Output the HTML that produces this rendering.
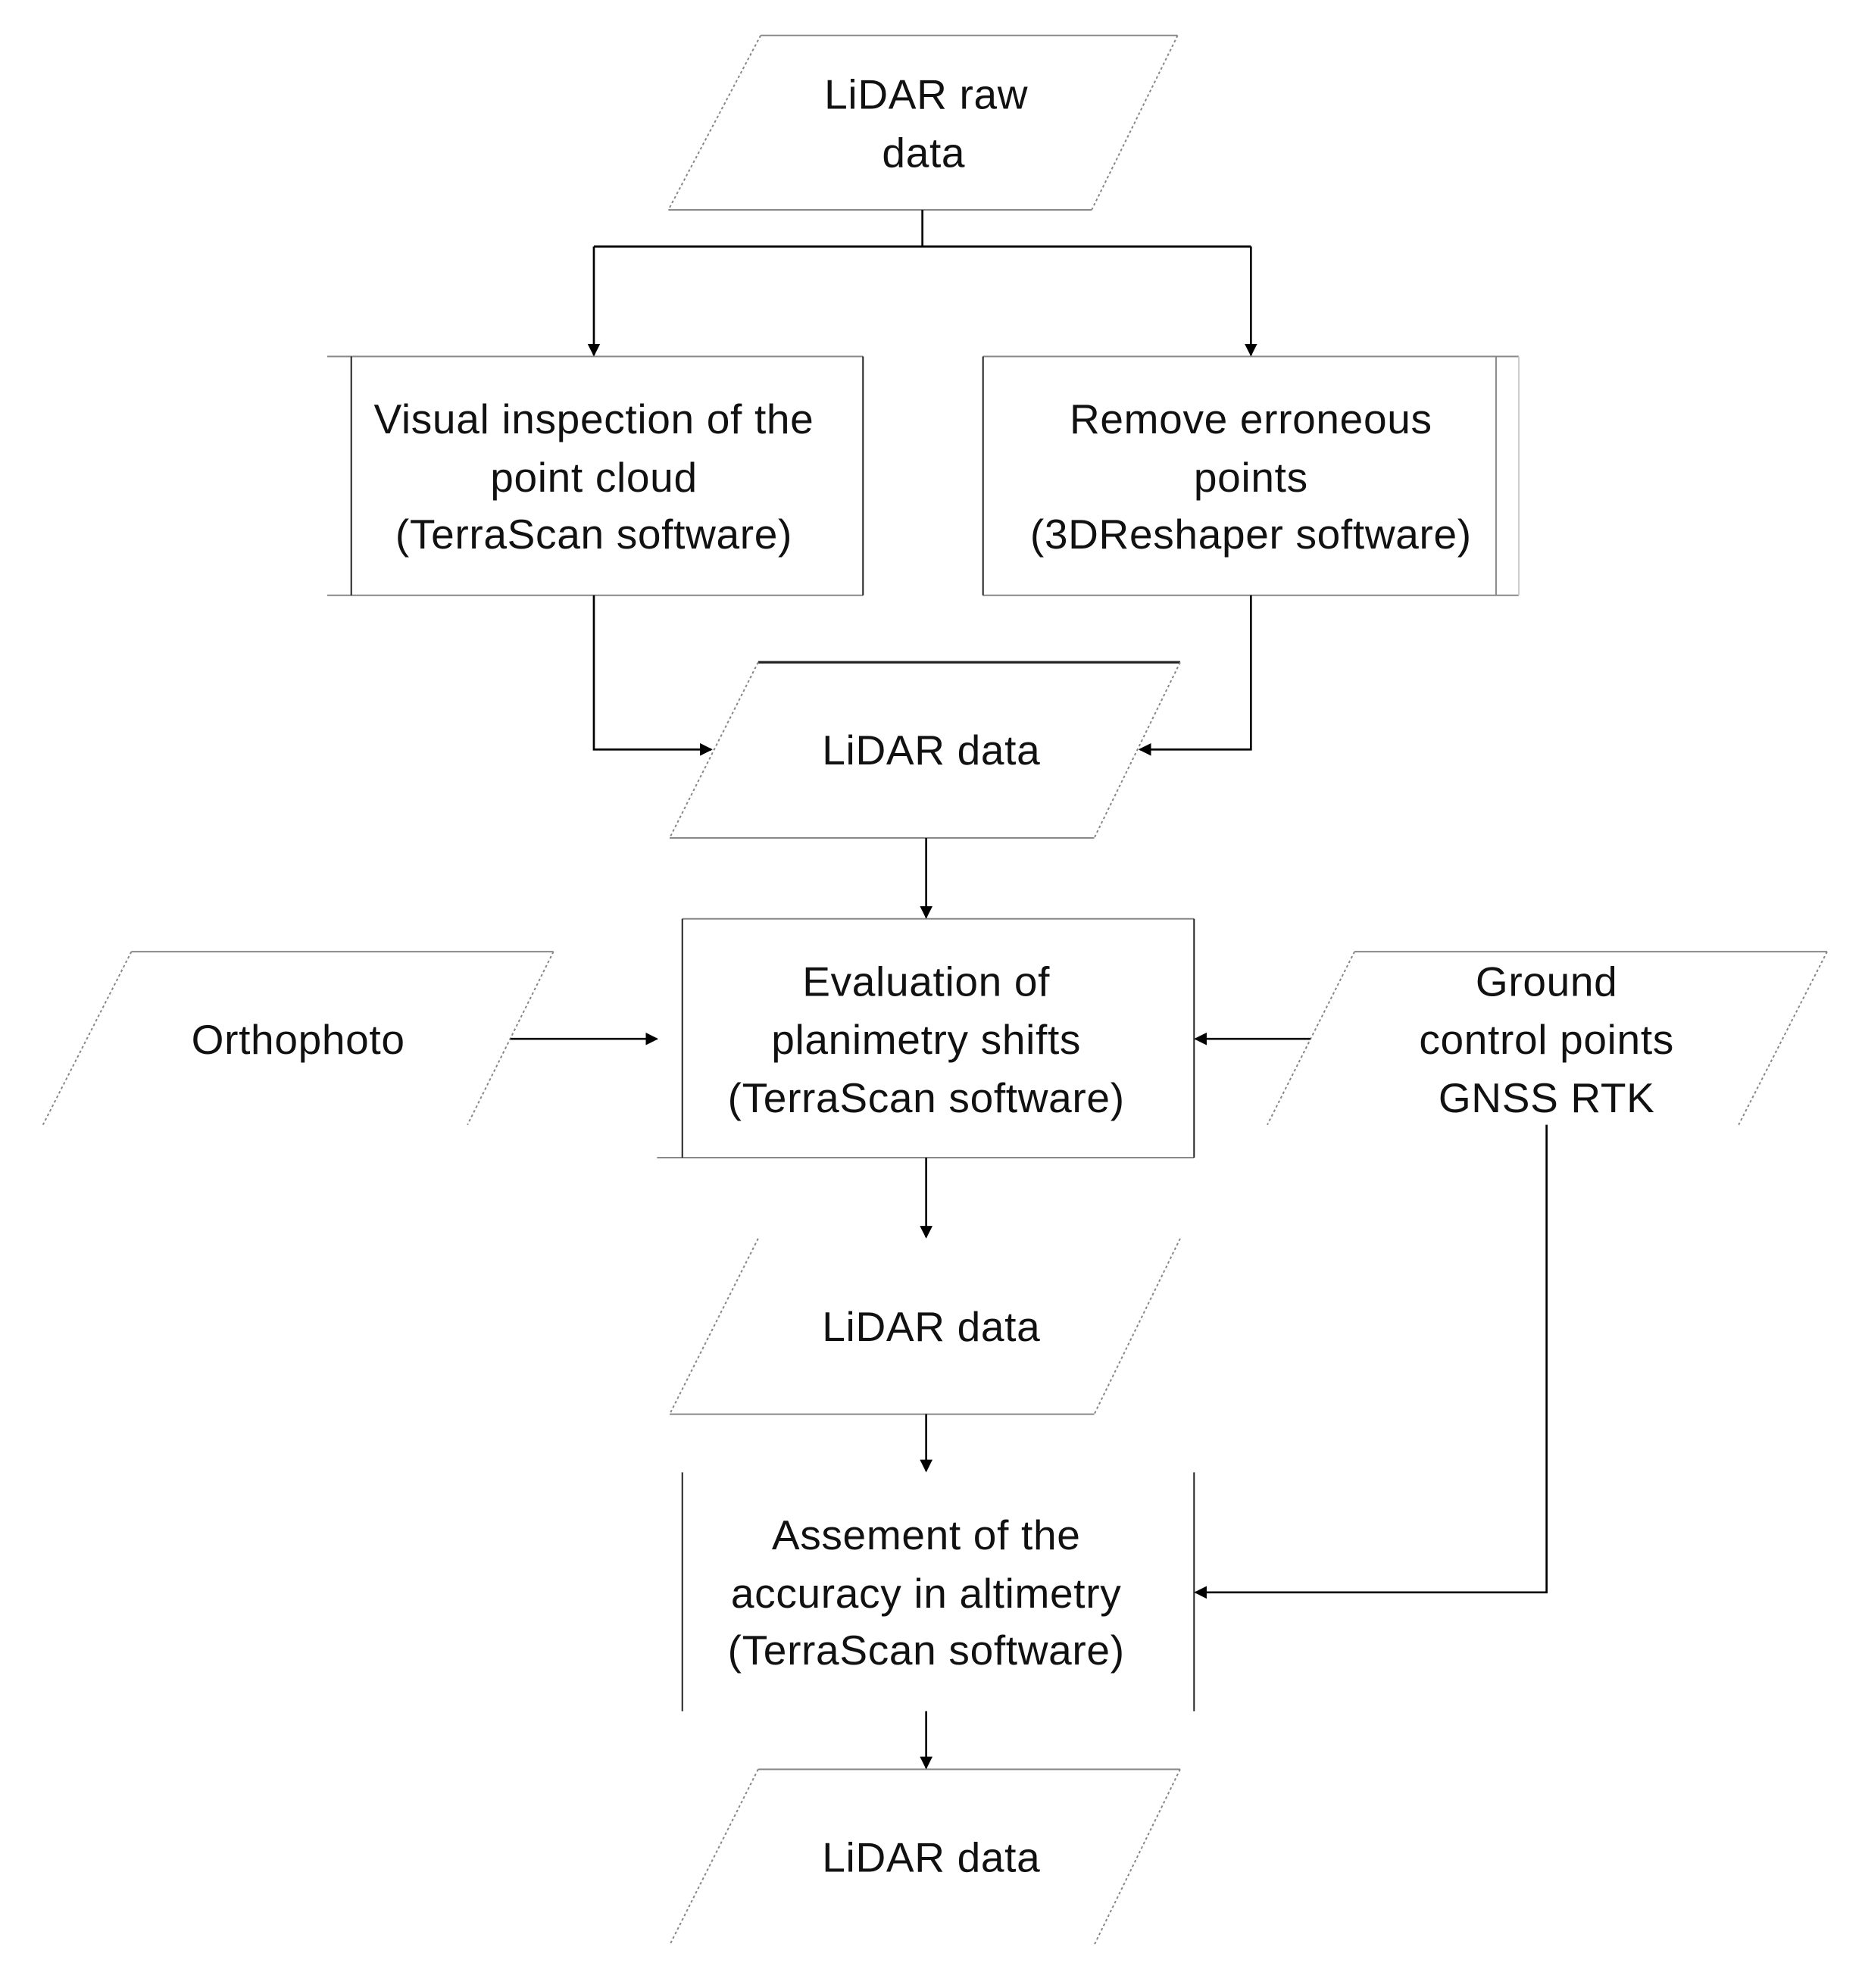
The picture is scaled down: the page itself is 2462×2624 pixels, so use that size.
<!DOCTYPE html>
<html><head><meta charset="utf-8"><style>
html,body{margin:0;padding:0;background:#fff;}
svg{display:block;}
text{font-family:"Liberation Sans",sans-serif;font-size:33px;letter-spacing:0.4px;fill:#111;text-anchor:middle;}
</style></head><body>
<svg width="2462" height="2624" viewBox="0 0 1476 1573" xmlns="http://www.w3.org/2000/svg">
<defs>
<marker id="a" markerWidth="10" markerHeight="10" refX="9" refY="5" orient="auto" markerUnits="userSpaceOnUse">
<path d="M0,0 L10,5 L0,10 z" fill="#000"/>
</marker>
</defs>
<g transform="translate(2,2)">
<g fill="none" stroke="#888" stroke-width="1.2">
<line x1="600" y1="26" x2="930" y2="26"/><line x1="527" y1="164" x2="862" y2="164"/>
<line x1="600" y1="26" x2="527" y2="164" stroke-dasharray="2,2"/><line x1="930" y1="26" x2="862" y2="164" stroke-dasharray="2,2"/>
<line x1="598" y1="522" x2="932" y2="522" stroke="#222" stroke-width="2"/><line x1="528" y1="661" x2="864" y2="661"/>
<line x1="598" y1="522" x2="528" y2="661" stroke-dasharray="2,2"/><line x1="932" y1="522" x2="864" y2="661" stroke-dasharray="2,2"/>
<line x1="102" y1="751" x2="436" y2="751"/>
<line x1="102" y1="751" x2="32" y2="888" stroke-dasharray="2,2"/><line x1="436" y1="751" x2="368" y2="888" stroke-dasharray="2,2"/>
<line x1="1070" y1="751" x2="1444" y2="751"/>
<line x1="1070" y1="751" x2="1001" y2="888" stroke-dasharray="2,2"/><line x1="1444" y1="751" x2="1374" y2="888" stroke-dasharray="2,2"/>
<line x1="528" y1="1117" x2="864" y2="1117"/>
<line x1="598" y1="978" x2="528" y2="1117" stroke-dasharray="2,2"/><line x1="932" y1="978" x2="864" y2="1117" stroke-dasharray="2,2"/>
<line x1="598" y1="1398" x2="932" y2="1398"/>
<line x1="598" y1="1398" x2="528" y2="1537" stroke-dasharray="2,2"/><line x1="932" y1="1398" x2="864" y2="1537" stroke-dasharray="2,2"/>
<line x1="257" y1="280" x2="681" y2="280"/><line x1="257" y1="469" x2="681" y2="469"/>
<line x1="276" y1="280" x2="276" y2="469" stroke="#222"/><line x1="681" y1="280" x2="681" y2="469" stroke="#222"/>
<line x1="776" y1="280" x2="1200" y2="280"/><line x1="776" y1="469" x2="1200" y2="469"/>
<line x1="776" y1="280" x2="776" y2="469" stroke="#222"/><line x1="1182" y1="280" x2="1182" y2="469"/><line x1="1200" y1="280" x2="1200" y2="469" stroke="#ccc"/>
<line x1="538" y1="725" x2="943" y2="725"/><line x1="518" y1="914" x2="943" y2="914"/>
<line x1="538" y1="725" x2="538" y2="914" stroke="#222"/><line x1="943" y1="725" x2="943" y2="914" stroke="#222"/>
<line x1="538" y1="1163" x2="538" y2="1352" stroke="#222"/><line x1="943" y1="1163" x2="943" y2="1352" stroke="#222"/>
</g>
<g fill="none" stroke="#000" stroke-width="1.6">
<polyline points="728,164 728,193"/>
<polyline points="468,193 988,193"/>
<polyline points="468,193 468,279" marker-end="url(#a)"/>
<polyline points="988,193 988,279" marker-end="url(#a)"/>
<polyline points="468,469 468,591 561,591" marker-end="url(#a)"/>
<polyline points="988,469 988,591 900,591" marker-end="url(#a)"/>
<polyline points="731,661 731,724" marker-end="url(#a)"/>
<polyline points="402,820 518,820" marker-end="url(#a)"/>
<polyline points="1035,820 944,820" marker-end="url(#a)"/>
<polyline points="1222,888 1222,1258 944,1258" marker-end="url(#a)"/>
<polyline points="731,914 731,977" marker-end="url(#a)"/>
<polyline points="731,1117 731,1162" marker-end="url(#a)"/>
<polyline points="731,1352 731,1397" marker-end="url(#a)"/>
</g>
<text x="731" y="84">LiDAR raw</text><text x="729" y="130">data</text>
<text x="468" y="341">Visual inspection of the</text><text x="468" y="387">point cloud</text><text x="468" y="432">(TerraScan software)</text>
<text x="988" y="341">Remove erroneous</text><text x="988" y="387">points</text><text x="988" y="432">(3DReshaper software)</text>
<text x="735" y="603">LiDAR data</text>
<text x="731" y="786">Evaluation of</text><text x="731" y="832">planimetry shifts</text><text x="731" y="878">(TerraScan software)</text>
<text x="234" y="832">Orthophoto</text>
<text x="1222" y="786">Ground</text><text x="1222" y="832">control points</text><text x="1222" y="878">GNSS RTK</text>
<text x="735" y="1059">LiDAR data</text>
<text x="731" y="1224">Assement of the</text><text x="731" y="1270">accuracy in altimetry</text><text x="731" y="1315">(TerraScan software)</text>
<text x="735" y="1479">LiDAR data</text>
</g>
</svg>
</body></html>
